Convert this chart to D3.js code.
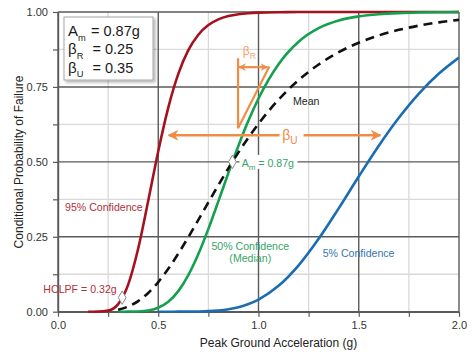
<!DOCTYPE html>
<html>
<head>
<meta charset="utf-8">
<script src="https://cdn.jsdelivr.net/npm/d3@7"></script>
<style>
body { margin: 0; background: #fff; }
svg { display: block; font-family: "Liberation Sans", Arial, sans-serif; }
</style>
</head>
<body>
<svg id="chart" width="474" height="352"></svg>
<script>
// peak ground acceleration (g), shared by every curve
const pga = [0.15, 0.2, 0.25, 0.3, 0.35, 0.4, 0.45, 0.5, 0.55, 0.6, 0.65, 0.7, 0.75, 0.8, 0.85, 0.9, 0.95, 1.0,
             1.1, 1.2, 1.3, 1.4, 1.5, 1.6, 1.7, 1.8, 1.9, 2.0];
// conditional probability of failure (null = not drawn there)
const conf95 = [0, 0.0002, 0.0036, 0.0253, 0.0905, 0.2108, 0.3699, 0.5355, 0.681, 0.7934, 0.8726, 0.9243, 0.9565, 0.9755, 0.9865, 0.9927, 0.996, 0.9979,
                0.9994, 0.9998, 1, 1, 1, 1, 1, 1, 1, 1];
const median = [null, null, null, 0, 0.0001, 0.0009, 0.0042, 0.0134, 0.0333, 0.0686, 0.1218, 0.1922, 0.2763, 0.3688, 0.463, 0.554, 0.6376, 0.7113,
                0.826, 0.9008, 0.946, 0.9715, 0.9853, 0.9926, 0.9963, 0.9982, 0.9991, 0.9996];
const mean = [null, null, null, 0.0066, 0.0171, 0.0354, 0.0626, 0.0989, 0.1432, 0.1938, 0.2489, 0.3066, 0.365, 0.4227, 0.4785, 0.5315, 0.5811, 0.627,
              0.7074, 0.7728, 0.8249, 0.8658, 0.8974, 0.9218, 0.9404, 0.9546, 0.9654, 0.9736];
const conf5 = [null, null, null, null, null, null, null, 0, 0, 0.0001, 0.0003, 0.0008, 0.0019, 0.0042, 0.0083, 0.0151, 0.0256, 0.0405,
               0.0863, 0.1548, 0.2433, 0.3449, 0.451, 0.5537, 0.6469, 0.7278, 0.7945, 0.8478];

// HCLPF and median capacity points
const markerPga = [0.32, 0.87];
const markerProb = [0.047, 0.5];

const xTicks = [0, 0.5, 1.0, 1.5, 2.0];
const xMinor = [0.25, 0.75, 1.25, 1.75];
const yTicks = [0, 0.25, 0.5, 0.75, 1.0];
const yMinor = [0.125, 0.375, 0.625, 0.875];

// parameter box
const paramSymbols = ["A", "\u03b2", "\u03b2"];
const paramSubs = ["m", "R", "U"];
const paramValues = ["0.87g", "0.25", "0.35"];

const RED = "#a5121f", GREEN = "#15a04f", BLUE = "#1b6db3", ORANGE = "#ef8d47";

let svg = d3.select("#chart");
let x = d3.scaleLinear().domain([0, 2]).range([58, 459]);
let y = d3.scaleLinear().domain([0, 1]).range([311.7, 12]);

let defs = svg.append("defs");
defs.append("clipPath").attr("id", "plotClip")
    .append("rect").attr("x", x(0)).attr("y", y(1) - 2)
    .attr("width", x(2) - x(0)).attr("height", y(0) - y(1) + 3);
defs.append("filter").attr("id", "shadow")
    .append("feDropShadow").attr("dx", 2).attr("dy", 2).attr("stdDeviation", 1.5)
    .attr("flood-color", "#000").attr("flood-opacity", 0.3);
// stealth style arrow head
defs.append("marker").attr("id", "arrow")
    .attr("viewBox", "0 0 10 10").attr("refX", 9).attr("refY", 5)
    .attr("markerWidth", 4.5).attr("markerHeight", 4.5).attr("markerUnits", "strokeWidth")
    .attr("orient", "auto-start-reverse")
  .append("path").attr("d", "M0,0 L10,5 L0,10 L3,5 Z").attr("fill", ORANGE);
defs.append("marker").attr("id", "arrowSmall")
    .attr("viewBox", "0 0 10 10").attr("refX", 9).attr("refY", 5)
    .attr("markerWidth", 3.5).attr("markerHeight", 3.5).attr("markerUnits", "strokeWidth")
    .attr("orient", "auto-start-reverse")
  .append("path").attr("d", "M0,0 L10,5 L0,10 L3,5 Z").attr("fill", ORANGE);

// grid
let grid = svg.append("g");
grid.selectAll(".vminor").data(xMinor).join("line")
    .attr("x1", d => x(d)).attr("x2", d => x(d)).attr("y1", y(0)).attr("y2", y(1))
    .attr("stroke", "#d9d9d9").attr("stroke-width", 1.3);
grid.selectAll(".hminor").data(yMinor).join("line")
    .attr("x1", x(0)).attr("x2", x(2)).attr("y1", d => y(d)).attr("y2", d => y(d))
    .attr("stroke", "#d9d9d9").attr("stroke-width", 1.3);
grid.selectAll(".vmajor").data(xTicks).join("line")
    .attr("x1", d => x(d)).attr("x2", d => x(d)).attr("y1", y(0)).attr("y2", y(1))
    .attr("stroke", "#5a5a5a").attr("stroke-width", 1.4);
grid.selectAll(".hmajor").data(yTicks).join("line")
    .attr("x1", x(0)).attr("x2", x(2)).attr("y1", d => y(d)).attr("y2", d => y(d))
    .attr("stroke", "#5a5a5a").attr("stroke-width", 1.4);

// axes
let xAxis = d3.axisBottom(x)
    .tickValues(xTicks.concat(xMinor))
    .tickSize(5).tickSizeOuter(0).tickPadding(5)
    .tickFormat(d => xTicks.includes(d) ? d3.format(".1f")(d) : "");
let yAxis = d3.axisLeft(y)
    .tickValues(yTicks.concat(yMinor))
    .tickSize(5).tickSizeOuter(0).tickPadding(5)
    .tickFormat(d => yTicks.includes(d) ? d3.format(".2f")(d) : "");

let gx = svg.append("g").attr("transform", "translate(0," + y(0) + ")").call(xAxis);
let gy = svg.append("g").attr("transform", "translate(" + x(0) + ",0)").call(yAxis);
[gx, gy].forEach(g => {
    g.select(".domain").attr("stroke", "#5a5a5a").attr("stroke-width", 1.4);
    g.selectAll(".tick line").attr("stroke", "#5a5a5a").attr("stroke-width", 1.2);
    g.selectAll("text").attr("fill", "#333").style("font-size", "11px")
        .style("font-family", "'Liberation Sans', Arial, sans-serif");
});

// curves
let line = d3.line()
    .defined(d => d.p !== null)
    .x(d => x(d.a))
    .y(d => y(d.p))
    .curve(d3.curveMonotoneX);

let series = [
    { vals: conf95, color: RED, dash: null },
    { vals: conf5, color: BLUE, dash: null },
    { vals: median, color: GREEN, dash: null },
    { vals: mean, color: "#111", dash: "9,6" }
];
let curves = svg.append("g").attr("clip-path", "url(#plotClip)");
curves.selectAll("path").data(series).join("path")
    .attr("d", s => line(pga.map((a, i) => ({ a: a, p: s.vals[i] }))))
    .attr("fill", "none")
    .attr("stroke", s => s.color)
    .attr("stroke-width", 2.6)
    .attr("stroke-dasharray", s => s.dash);

// orange annotations: beta_R triangle and beta_U arrow
let ann = svg.append("g").attr("stroke", ORANGE).attr("fill", "none");
ann.append("path")
    .attr("d", "M" + x(0.898) + "," + y(0.846) + "V" + y(0.612) + "L" + x(1.054) + "," + y(0.818))
    .attr("stroke-width", 2.2);
ann.append("line")
    .attr("x1", x(0.898) + 1).attr("x2", x(1.045)).attr("y1", y(0.816)).attr("y2", y(0.816))
    .attr("stroke-width", 2.2)
    .attr("marker-start", "url(#arrowSmall)").attr("marker-end", "url(#arrowSmall)");
ann.append("line")
    .attr("x1", x(0.552)).attr("x2", x(1.608)).attr("y1", y(0.589)).attr("y2", y(0.589))
    .attr("stroke-width", 2.4)
    .attr("marker-start", "url(#arrow)").attr("marker-end", "url(#arrow)");
// gap behind the beta_U text
svg.append("rect").attr("x", x(1.105)).attr("y", y(0.589) - 8).attr("width", 24).attr("height", 18).attr("fill", "#fff");

function greek(g, sym, sub, px, py, size, color, subScale) {
    let t = g.append("text").attr("x", px).attr("y", py).attr("fill", color).style("font-size", size + "px");
    t.append("tspan").text(sym);
    t.append("tspan").text(sub).attr("dy", size * 0.3).style("font-size", (size * (subScale || 0.72)) + "px");
    return t;
}
greek(svg, "\u03b2", "U", x(1.118), y(0.589) + 5, 14, ORANGE);
greek(svg, "\u03b2", "R", x(0.922), y(0.855), 12, "#f2a46c");

// curve labels
let labels = svg.append("g").style("font-size", "10.6px");
labels.append("text").attr("x", x(0.035)).attr("y", y(0.35) + 4).attr("fill", "#b0303c").text("95% Confidence");
labels.append("text").attr("x", x(0.959)).attr("y", y(0.22) + 4).attr("text-anchor", "middle").attr("fill", "#36a468").text("50% Confidence");
labels.append("text").attr("x", x(0.959)).attr("y", y(0.178) + 4).attr("text-anchor", "middle").attr("fill", "#36a468").text("(Median)");
labels.append("text").attr("x", x(1.32)).attr("y", y(0.197) + 4).attr("fill", "#3476b0").text("5% Confidence");
labels.append("text").attr("x", x(1.172)).attr("y", y(0.703) + 4).attr("fill", "#222").text("Mean");
labels.append("text").attr("x", x(-0.073)).attr("y", y(0.075) + 4).attr("fill", "#b0303c").text("HCLPF = 0.32g");

// median capacity label on a white patch
labels.append("rect").attr("x", x(0.905)).attr("y", y(0.5) - 7).attr("width", 58).attr("height", 14).attr("fill", "#fff");
let am = labels.append("text").attr("x", x(0.916)).attr("y", y(0.496) + 4).attr("fill", "#36a468");
am.append("tspan").text("A");
am.append("tspan").text("m").attr("dy", 3).style("font-size", "8px");
am.append("tspan").text(" = 0.87g").attr("dy", -3);

// markers
svg.append("g").selectAll("path").data(markerPga).join("path")
    .attr("transform", (d, i) => "translate(" + x(d) + "," + y(markerProb[i]) + ")")
    .attr("d", d3.symbol(d3.symbolDiamond, 52))
    .attr("fill", "#fff").attr("stroke", "#8c8c8c").attr("stroke-width", 1);

// parameter box
let box = svg.append("g");
box.append("rect").attr("x", 64).attr("y", 17).attr("width", 89).attr("height", 63)
    .attr("fill", "#fff").attr("stroke", "#a6a6a6").attr("stroke-width", 1).attr("filter", "url(#shadow)");
paramSymbols.forEach((s, i) => {
    greek(box, s, paramSubs[i], 68, 36 + i * 18.3, 15, "#1a1a1a", 0.62);
    box.append("text").attr("x", i == 0 ? 91 : 92.5).attr("y", 36 + i * 18.3)
        .attr("fill", "#1a1a1a").style("font-size", "14.5px")
        .text("= " + paramValues[i]);
});

// axis titles
svg.append("text")
    .attr("x", 278.5).attr("y", 347)
    .attr("text-anchor", "middle").attr("fill", "#222").style("font-size", "12px")
    .text("Peak Ground Acceleration (g)");
svg.append("text")
    .attr("transform", "translate(23,162) rotate(-90)")
    .attr("text-anchor", "middle").attr("fill", "#222").style("font-size", "12px")
    .text("Conditional Probability of Failure");
</script>
</body>
</html>
